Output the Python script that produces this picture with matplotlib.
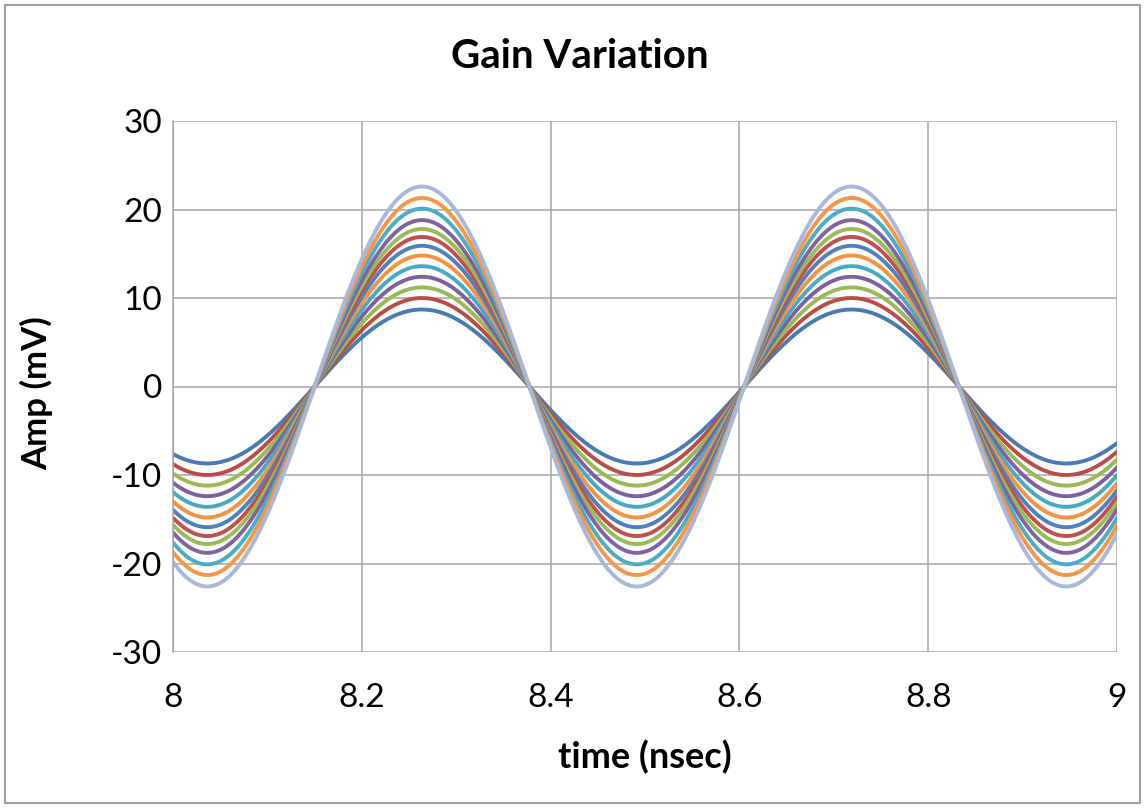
import numpy as np
import matplotlib
matplotlib.use("Agg")
import matplotlib.pyplot as plt
from matplotlib.patches import Rectangle

# ---- data ----
time_start_ns = 8.0
time_end_ns = 9.0
period_ns = 0.455          # peak-to-peak spacing (8.265 -> 8.72)
rising_zero_ns = 8.150     # rising zero crossing shared by all curves
amplitudes_mv = [8.7, 10.0, 11.2, 12.4, 13.6, 14.8, 15.9, 16.9, 17.8, 18.8, 20.1, 21.3, 22.6]
series_colors = ['#4A7AB2', '#BE4B48', '#98B954', '#7D60A0', '#46AAC5', '#F69240',
                 '#4F81BD', '#C0504D', '#9BBB59', '#8064A2', '#4BACC6', '#F79646',
                 '#A7B8DC']
x_ticks = [8, 8.2, 8.4, 8.6, 8.8, 9]
x_tick_labels = ['8', '8.2', '8.4', '8.6', '8.8', '9']
y_ticks = [-30, -20, -10, 0, 10, 20, 30]
y_tick_labels = ['-30', '-20', '-10', '0', '10', '20', '30']
title = 'Gain Variation'
x_label = 'time (nsec)'
y_label = 'Amp (mV)'

plt.rcParams['font.family'] = ['Lato', 'DejaVu Sans']
plt.rcParams['axes.unicode_minus'] = False

W, H = 1145, 808
fig = plt.figure(figsize=(W / 100, H / 100), dpi=100)
fig.patch.set_facecolor('white')

# outer chart border
fig.patches.append(Rectangle((5 / W, 5 / H), (W - 10) / W, (H - 10) / H,
                             transform=fig.transFigure, fill=False,
                             edgecolor='#8C8C8C', linewidth=1.2))

left, right = 173 / W, 1117 / W
bottom, top = 1 - 652 / H, 1 - 121 / H
ax = fig.add_axes([left, bottom, right - left, top - bottom])

t = np.linspace(time_start_ns, time_end_ns, 801)
phase = 2 * np.pi * (t - rising_zero_ns) / period_ns
for amp, col in zip(amplitudes_mv, series_colors):
    ax.plot(t, amp * np.sin(phase), color=col, linewidth=2.8, solid_capstyle='round')

ax.set_xlim(time_start_ns, time_end_ns)
ax.set_ylim(-30, 30)
ax.set_xticks(x_ticks)
ax.set_xticklabels(x_tick_labels)
ax.set_yticks(y_ticks)
ax.set_yticklabels(y_tick_labels)
ax.grid(True, color='#A6A6A6', linewidth=1.1)
ax.set_axisbelow(True)
for s in ax.spines.values():
    s.set_visible(False)
ax.spines['left'].set_visible(True)
ax.spines['left'].set_color('#A6A6A6')
ax.spines['left'].set_linewidth(1.1)
ax.tick_params(axis='both', length=0, labelsize=24, colors='black')
ax.tick_params(axis='x', pad=22)
ax.tick_params(axis='y', pad=8)

fig.text(580 / W, 1 - 56 / H, title, ha='center', va='center', fontsize=29, fontweight='bold')
fig.text(645 / W, 1 - 757 / H, x_label, ha='center', va='center', fontsize=26, fontweight='bold')
fig.text(37 / W, 1 - 393 / H, y_label, ha='center', va='center', fontsize=25,
         fontweight='bold', rotation=90)

fig.savefig('out.png', dpi=100, facecolor='white')
